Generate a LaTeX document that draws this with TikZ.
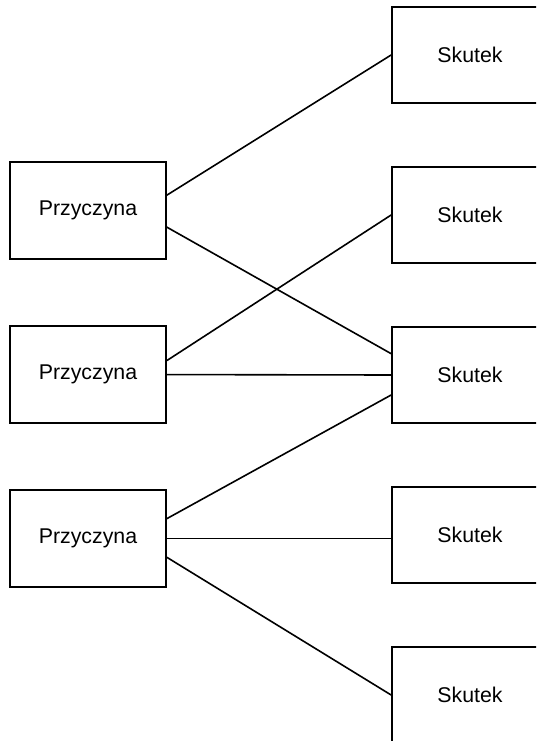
\documentclass[tikz,border=0pt]{standalone}
\usepackage{fontspec}
\setmainfont{Liberation Sans}
\usetikzlibrary{positioning}

\tikzset{
  box/.style = {draw=black, line width=1.3pt, align=center, inner sep=0pt,
    font=\fontsize{16}{19}\selectfont},
  cause/.style = {box, minimum width=117pt, minimum height=72.75pt},
  effect/.style = {box, minimum width=117pt, minimum height=72pt},
  link/.style = {line width=1.2pt}
}

\begin{document}
\begin{tikzpicture}[x=0.75pt, y=-0.75pt]
\useasboundingbox (0,0) rectangle (536,741);
\clip (0,0) rectangle (536,741);
% causes
\node [cause] (c1) at (88,210.5) {Przyczyna};
\node [cause, below=49pt of c1] (c2) {Przyczyna};
\node [cause, below=49pt of c2] (c3) {Przyczyna};
% effects
\node [effect] (e1) at (470,55) {Skutek};
\node [effect, below=46.7pt of e1] (e2) {Skutek};
\node [effect, below=46.7pt of e2] (e3) {Skutek};
\node [effect, below=46.7pt of e3] (e4) {Skutek};
\node [effect, below=46.7pt of e4] (e5) {Skutek};
% links
\draw [link] ([yshift=11.5pt]c1.east) -- (e1.west);
\draw [link] ([yshift=-12.5pt]c1.east) -- ([yshift=16pt]e3.west);
\draw [link] ([yshift=10.5pt]c2.east) -- (e2.west);
\draw [link] (c2.east) -- (e3.west);
\draw [link] ([yshift=15pt]c3.east) -- ([yshift=-15pt]e3.west);
\draw [link] (c3.east) -- (e4.west |- c3.east);
\draw [link] ([yshift=-14pt]c3.east) -- (e5.west);
\end{tikzpicture}
\end{document}
